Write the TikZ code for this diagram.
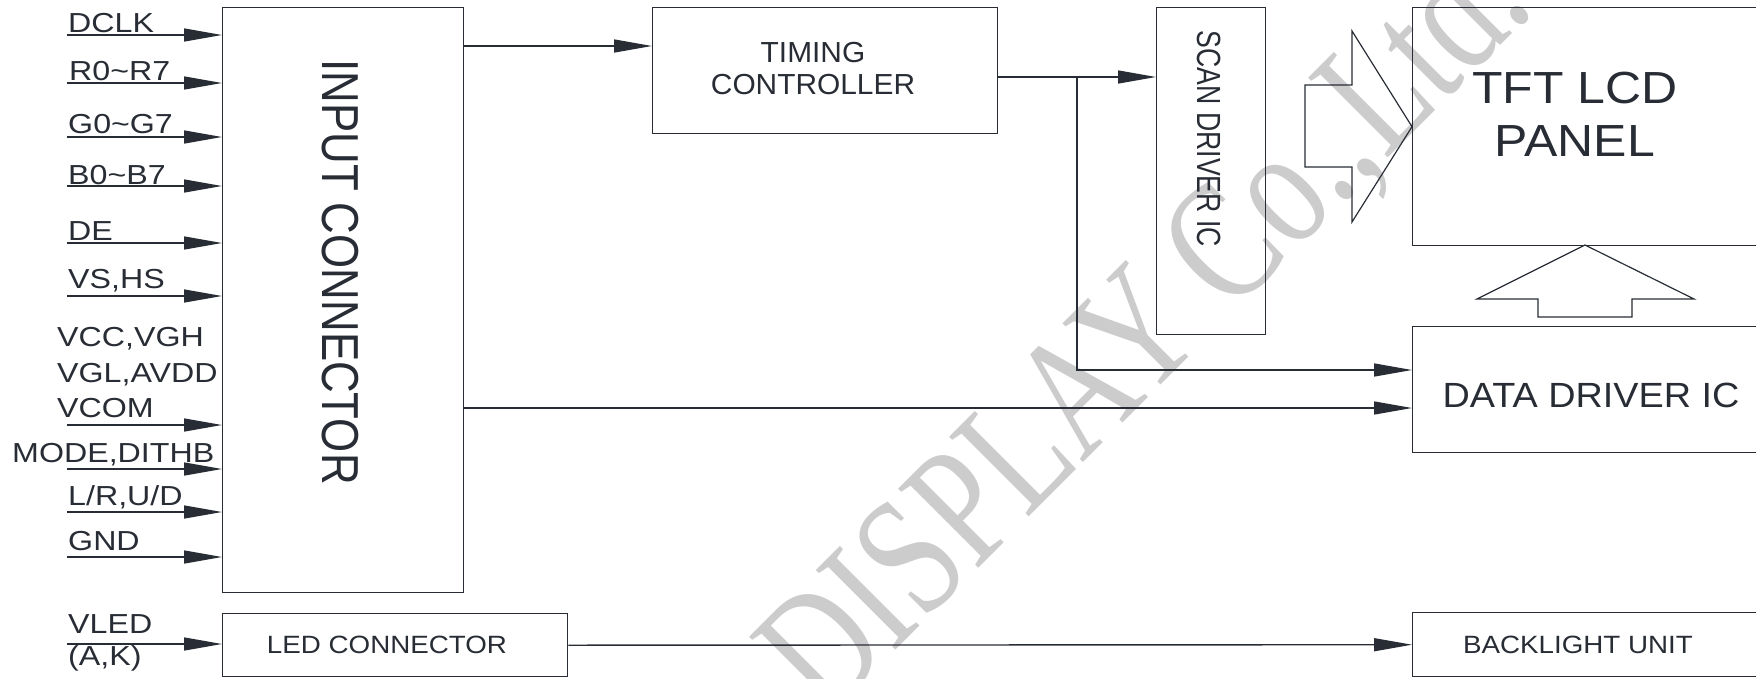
\documentclass[tikz,border=0pt]{standalone}
\usepackage{fontspec}
\setmainfont{Liberation Sans}
\newfontfamily\wmfont{Liberation Serif}
\usepackage{tikz}
\usetikzlibrary{%
  positioning
 ,arrows.meta
 ,calc
}
\definecolor{ink}{RGB}{40,44,52}
\definecolor{wmgray}{RGB}{204,204,204}
\newcommand{\fsz}[2]{\fontsize{#1}{#2}\selectfont}
\tikzstyle{blk}=[draw=ink,line width=1.4pt,inner sep=0pt,anchor=north west]
\tikzstyle{txt}=[text=ink,inner sep=0pt]
\tikzstyle{pin}=[txt,anchor=base west,xscale=1.17,font=\fsz{27.5}{30}]
\tikzstyle{sig}=[draw=ink,line width=1.4pt,-{Triangle[length=38pt,width=13pt]}]
\tikzstyle{bigarr}=[draw=ink,line width=1.2pt,line join=miter]
\tikzstyle{wm}=[text=wmgray,inner sep=0pt,font=\wmfont\fsz{172}{172},rotate=45,xscale=0.76,anchor=base west]

\begin{document}
\begin{tikzpicture}[x=1pt,y=-1pt]
  \useasboundingbox (0,0) rectangle (1756,678);
  \clip (0,0) rectangle (1756,678);
  \node[wm] (wmark) at (826,720) {DISPLAY Co.,Ltd.};
% blocks
  \node[blk,minimum width=241pt,minimum height=585pt] (in_c)    at (222,7)    {};
  \node[blk,minimum width=345pt,minimum height=126pt] (tcon)    at (652,7)    {};
  \node[blk,minimum width=109pt,minimum height=327pt] (scan_ic) at (1156,7)   {};
  \node[blk,minimum width=360pt,minimum height=238pt] (panel)   at (1412,7)   {};
  \node[blk,minimum width=360pt,minimum height=126pt] (data_ic) at (1412,326) {};
  \node[blk,minimum width=345pt,minimum height=63pt]  (led_c)   at (222,613)  {};
  \node[blk,minimum width=360pt,minimum height=64pt]  (blu)     at (1412,612) {};
% block texts
  \node[txt,rotate=-90,xscale=0.843,font=\fsz{52}{52}] (in_t) at (340.5,272) {INPUT CONNECTOR};
  \node[txt,rotate=-90,xscale=0.795,font=\fsz{33.5}{34}] (scan_t) at (1209,139) {SCAN DRIVER IC};
  \node[txt,anchor=north,align=center,xscale=1.03,font=\fsz{29}{32}] (tcon_t) at (813,42) {TIMING\\CONTROLLER};
  \node[txt,anchor=north,align=center,xscale=1.11,font=\fsz{45}{53}] (panel_t) at (1575,72) {TFT LCD\\PANEL};
  \node[txt,anchor=base,xscale=1.08,font=\fsz{35}{36}] (data_t) at (1591,407) {DATA DRIVER IC};
  \node[txt,anchor=base,xscale=1.11,font=\fsz{25}{26}] (led_t) at (387,653) {LED CONNECTOR};
  \node[txt,anchor=base,xscale=1.11,font=\fsz{25}{26}] (blu_t) at (1578,653) {BACKLIGHT UNIT};
% input pins
  \foreach \x/\y/\t in {68/32/DCLK,69/80/R0\textasciitilde R7,68/133/G0\textasciitilde G7,
      68/184/B0\textasciitilde B7,68/240/DE,68/288/{VS,HS},57/346/{VCC,VGH},57/382/{VGL,AVDD},
      57/417/VCOM,12/462/{MODE,DITHB},68/505/{L/R,U/D},68/550/GND,68/633/VLED,68/665/{(A,K)}}
    \node[pin] (lb_\y) at (\x,\y) {\t};
  \foreach \n/\y in {dclk/35,pr/83,pg/137,pb/186,de/243,vshs/296,vcom/425,mode/469,lrud/512,gnd/557}{
    \coordinate (\n) at (67,\y);
    \draw[sig] (\n) -- (in_c.west |- \n);
  }
  \coordinate (vled) at (67,644);
  \draw[sig] (vled) -- (led_c.west |- vled);
% signal paths
  \draw[sig] ([yshift=-39pt]in_c.north east) -- ([yshift=-39pt]tcon.north west);
  \draw[sig] ([yshift=-70pt]tcon.north east) -- ([yshift=-70pt]scan_ic.north west);
  \coordinate (br) at (1077,77);
  \draw[sig] (br) |- ([yshift=-44pt]data_ic.north west);
  \coordinate (dd) at ([yshift=-82pt]data_ic.north west);
  \draw[sig] (in_c.east |- dd) -- (dd);
  \draw[sig] (led_c.east) -- (blu.west);
% block arrows
  \draw[bigarr] (1305,85) -- (1352,85) -- (1352,31) -- (panel.west) -- (1352,222)
    -- (1352,167) -- (1305,167) -- cycle;
  \draw[bigarr] (1538,317) -- (1538,299) -- (1477,299) -- (1585,245) -- (1694,299)
    -- (1632,299) -- (1632,317) -- cycle;
\end{tikzpicture}
\end{document}
